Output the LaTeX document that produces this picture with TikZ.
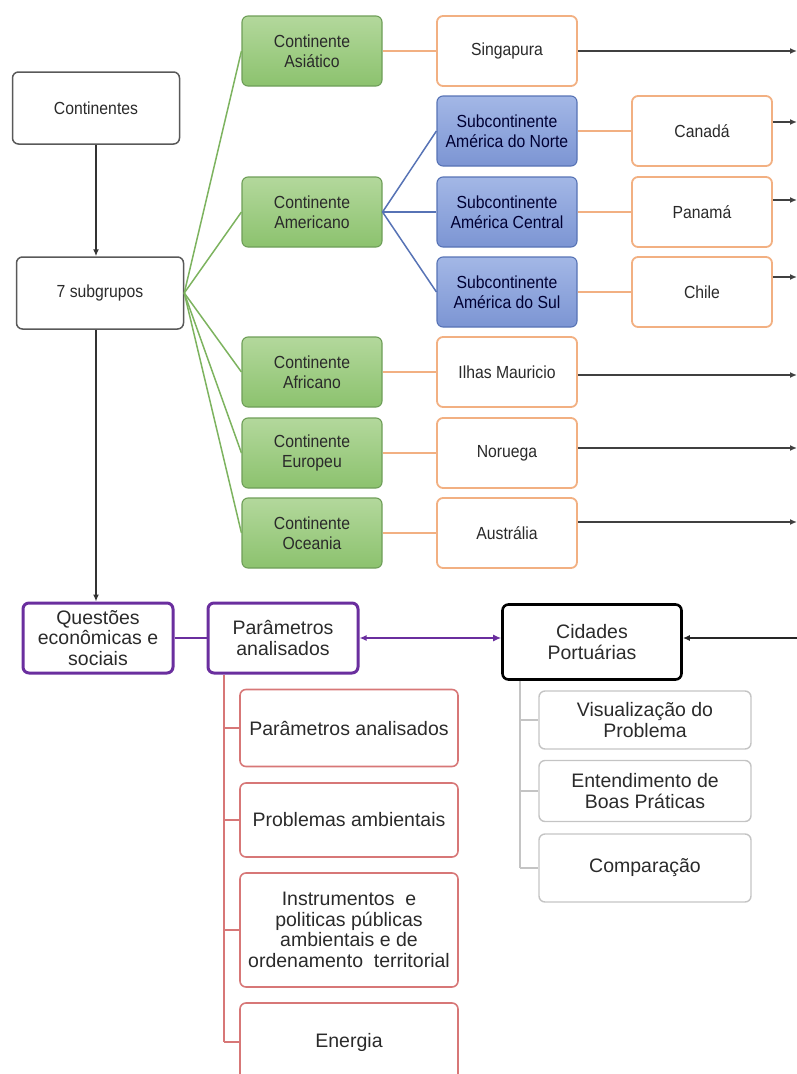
\documentclass[tikz,border=0pt]{standalone}
\usepackage{fontspec}
\setmainfont{Liberation Sans}
\newfontfamily\narrowfont[FakeStretch=0.9]{Liberation Sans}
\usetikzlibrary{arrows.meta}
\definecolor{grnline}{HTML}{7DB35F}
\definecolor{grnedge}{HTML}{6E9E58}
\definecolor{grntop}{HTML}{B3D89C}
\definecolor{grnbot}{HTML}{8CC26E}
\definecolor{blutop}{HTML}{A3B7E6}
\definecolor{blubot}{HTML}{7C95D3}
\definecolor{bluline}{HTML}{5773B5}
\definecolor{orgline}{HTML}{F2B082}
\definecolor{redline}{HTML}{D77777}
\definecolor{purp}{HTML}{6A2E9E}
\definecolor{gryline}{HTML}{C4C4C4}
\definecolor{txt}{HTML}{2A2A2A}

\begin{document}
\begin{tikzpicture}[x=1pt,y=-1pt,
  box/.style={rounded corners=6pt, align=center, inner sep=1pt, text=txt},
  topbox/.style={box, font=\narrowfont\fontsize{17.5}{20}\selectfont, minimum width=140, minimum height=70},
  plainbox/.style={topbox, draw=black!65, line width=1.5pt, minimum width=167, minimum height=72},
  grnbox/.style={topbox, draw=grnedge, line width=1.1pt, top color=grntop, bottom color=grnbot},
  blubox/.style={topbox, draw=bluline, line width=1.1pt, top color=blutop, bottom color=blubot, text=black!80!blue},
  orgbox/.style={topbox, draw=orgline, line width=1.8pt, fill=white},
  lowbox/.style={box, font=\fontsize{19.5}{20.5}\selectfont},
  purbox/.style={lowbox, draw=purp, line width=3pt, minimum width=150, minimum height=70},
  redbox/.style={lowbox, draw=redline, line width=1.6pt, minimum width=218},
  grybox/.style={lowbox, draw=gryline, line width=1.4pt, minimum width=212},
  tip/.style={-{Latex[length=7pt,width=6pt]}}]

  \useasboundingbox (0,0) rectangle (797,1074);
  \clip (0,0) rectangle (797,1074);
  \coordinate (rim) at (797,0);
  \coordinate (rtrunk) at (224,0);
  \coordinate (gtrunk) at (520,0);

  \node[plainbox] (cont) at (96,108) {Continentes};
  \node[plainbox] (sub) at (100,293) {7 subgrupos};

  \node[grnbox] (asia) at (312,51) {Continente\\Asiático};
  \node[grnbox] (amer) at (312,212) {Continente\\Americano};
  \node[grnbox] (afri) at (312,372) {Continente\\Africano};
  \node[grnbox] (euro) at (312,453) {Continente\\Europeu};
  \node[grnbox] (ocea) at (312,533) {Continente\\Oceania};

  \node[blubox] (norte) at (507,131) {Subcontinente\\América do Norte};
  \node[blubox] (centro) at (507,212) {Subcontinente\\América Central};
  \node[blubox] (sul) at (507,292) {Subcontinente\\América do Sul};

  \node[orgbox] (sing) at (507,51) {Singapura};
  \node[orgbox] (can) at (702,131) {Canadá};
  \node[orgbox] (pan) at (702,212) {Panamá};
  \node[orgbox] (chi) at (702,292) {Chile};
  \node[orgbox] (maur) at (507,372) {Ilhas Mauricio};
  \node[orgbox] (nor) at (507,453) {Noruega};
  \node[orgbox] (aus) at (507,533) {Austrália};

  \node[purbox] (ques) at (98,638) {Questões\\econômicas e\\sociais};
  \node[purbox] (parm) at (283,638) {Parâmetros\\analisados};
  \node[lowbox, draw=black, line width=2.6pt, minimum width=179, minimum height=75] (cid) at (592,642) {Cidades\\Portuárias};

  \node[redbox, minimum height=77] (r1) at (349,728) {Parâmetros analisados};
  \node[redbox, minimum height=74] (r2) at (349,820) {Problemas ambientais};
  \node[redbox, minimum height=114] (r3) at (349,930) {Instrumentos~ e\\politicas públicas\\ambientais e de\\ordenamento~ territorial};
  \node[redbox, minimum height=78] (r4) at (349,1042) {Energia};

  \node[grybox, minimum height=58] (g1) at (645,720) {Visualização do\\Problema};
  \node[grybox, minimum height=61] (g2) at (645,791) {Entendimento de\\Boas Práticas};
  \node[grybox, minimum height=68] (g3) at (645,868) {Comparação};

  \draw[tip, black!80, line width=1.4pt] (cont.south) -- (cont.south |- sub.north);
  \draw[tip, black!80, line width=1.4pt] (cont.south |- sub.south) -- (cont.south |- ques.north);

  \draw[grnline, line width=1.5pt] (sub.east) -- (asia.west);
  \draw[grnline, line width=1.5pt] (sub.east) -- (amer.west);
  \draw[grnline, line width=1.5pt] (sub.east) -- (afri.west);
  \draw[grnline, line width=1.5pt] (sub.east) -- (euro.west);
  \draw[grnline, line width=1.5pt] (sub.east) -- (ocea.west);

  \draw[bluline, line width=1.5pt] (amer.east) -- (norte.west);
  \draw[bluline, line width=1.5pt] (amer.east) -- (centro.west);
  \draw[bluline, line width=1.5pt] (amer.east) -- (sul.west);

  \draw[orgline, line width=1.6pt] (asia.east) -- (sing.west);
  \draw[orgline, line width=1.6pt] (norte.east) -- (can.west);
  \draw[orgline, line width=1.6pt] (centro.east) -- (pan.west);
  \draw[orgline, line width=1.6pt] (sul.east) -- (chi.west);
  \draw[orgline, line width=1.6pt] (afri.east) -- (maur.west);
  \draw[orgline, line width=1.6pt] (euro.east) -- (nor.west);
  \draw[orgline, line width=1.6pt] (ocea.east) -- (aus.west);

  \draw[tip, black!75, line width=1.6pt] (sing.east) -- (sing.east -| rim);
  \draw[tip, black!75, line width=1.6pt] ([yshift=9pt]can.east) -- ([yshift=9pt]can.east -| rim);
  \draw[tip, black!75, line width=1.6pt] ([yshift=12pt]pan.east) -- ([yshift=12pt]pan.east -| rim);
  \draw[tip, black!75, line width=1.6pt] ([yshift=15pt]chi.east) -- ([yshift=15pt]chi.east -| rim);
  \draw[tip, black!75, line width=1.6pt] ([yshift=-3pt]maur.east) -- ([yshift=-3pt]maur.east -| rim);
  \draw[tip, black!75, line width=1.6pt] ([yshift=5pt]nor.east) -- ([yshift=5pt]nor.east -| rim);
  \draw[tip, black!75, line width=1.6pt] ([yshift=11pt]aus.east) -- ([yshift=11pt]aus.east -| rim);

  \draw[purp, line width=1.4pt] (ques.east) -- (ques.east -| parm.west);
  \draw[purp, line width=1.4pt, {Latex[length=7pt,width=6pt]}-{Latex[length=8pt,width=7pt]}] (parm.east) -- (parm.east -| cid.west);
  \draw[tip, black!85, line width=1.6pt] ([yshift=4pt]cid.east -| rim) -- ([yshift=4pt]cid.east);

  \draw[redline, line width=1.5pt] (parm.south -| rtrunk) -- (r4.west -| rtrunk);
  \draw[redline, line width=1.5pt] (r1.west -| rtrunk) -- (r1.west);
  \draw[redline, line width=1.5pt] (r2.west -| rtrunk) -- (r2.west);
  \draw[redline, line width=1.5pt] (r3.west -| rtrunk) -- (r3.west);
  \draw[redline, line width=1.5pt] (r4.west -| rtrunk) -- (r4.west);

  \draw[gryline, line width=1.6pt] (cid.south -| gtrunk) -- (g3.west -| gtrunk);
  \draw[gryline, line width=1.6pt] (g1.west -| gtrunk) -- (g1.west);
  \draw[gryline, line width=1.6pt] (g2.west -| gtrunk) -- (g2.west);
  \draw[gryline, line width=1.6pt] (g3.west -| gtrunk) -- (g3.west);
\end{tikzpicture}
\end{document}
